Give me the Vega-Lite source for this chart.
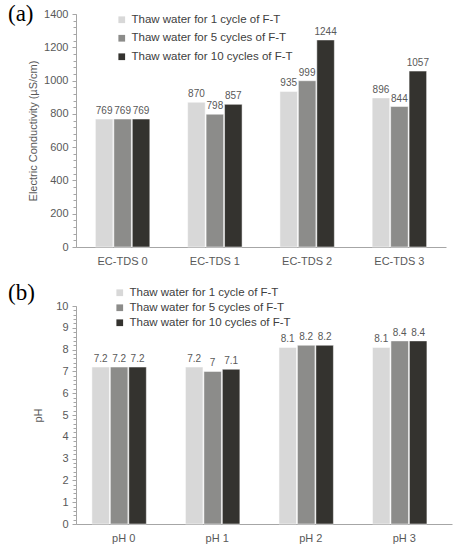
{
  "$schema": "https://vega.github.io/schema/vega-lite/v6.json",
  "padding": {"left": 8, "top": 3, "right": 5, "bottom": 5},
  "config": {
    "view": {"stroke": null},
    "font": "Liberation Sans",
    "axis": {
      "domainColor": "#a6a6a6",
      "tickColor": "#a6a6a6",
      "labelColor": "#595959",
      "titleColor": "#595959",
      "labelFont": "Liberation Sans",
      "titleFont": "Liberation Sans",
      "labelFontSize": 11,
      "titleFontSize": 11,
      "titleFontWeight": "normal",
      "grid": false
    },
    "legend": {
      "labelFont": "Liberation Sans",
      "labelFontSize": 11.5,
      "labelColor": "#404040",
      "labelLimit": 300,
      "symbolType": "square",
      "symbolSize": 45,
      "symbolStrokeWidth": 0,
      "title": null
    },
    "title": {"font": "Liberation Serif", "fontSize": 23, "fontWeight": "normal", "color": "#000000", "anchor": "start", "frame": "group"}
  },
  "datasets": {
    "ec": [
      {"group": "EC-TDS 0", "series": "Thaw water for 1 cycle of F-T", "value": 769},
      {"group": "EC-TDS 0", "series": "Thaw water for 5 cycles of F-T", "value": 769},
      {"group": "EC-TDS 0", "series": "Thaw water for 10 cycles of F-T", "value": 769},
      {"group": "EC-TDS 1", "series": "Thaw water for 1 cycle of F-T", "value": 870},
      {"group": "EC-TDS 1", "series": "Thaw water for 5 cycles of F-T", "value": 798},
      {"group": "EC-TDS 1", "series": "Thaw water for 10 cycles of F-T", "value": 857},
      {"group": "EC-TDS 2", "series": "Thaw water for 1 cycle of F-T", "value": 935},
      {"group": "EC-TDS 2", "series": "Thaw water for 5 cycles of F-T", "value": 999},
      {"group": "EC-TDS 2", "series": "Thaw water for 10 cycles of F-T", "value": 1244},
      {"group": "EC-TDS 3", "series": "Thaw water for 1 cycle of F-T", "value": 896},
      {"group": "EC-TDS 3", "series": "Thaw water for 5 cycles of F-T", "value": 844},
      {"group": "EC-TDS 3", "series": "Thaw water for 10 cycles of F-T", "value": 1057}
    ],
    "ph": [
      {"group": "pH 0", "series": "Thaw water for 1 cycle of F-T", "value": 7.2},
      {"group": "pH 0", "series": "Thaw water for 5 cycles of F-T", "value": 7.2},
      {"group": "pH 0", "series": "Thaw water for 10 cycles of F-T", "value": 7.2},
      {"group": "pH 1", "series": "Thaw water for 1 cycle of F-T", "value": 7.2},
      {"group": "pH 1", "series": "Thaw water for 5 cycles of F-T", "value": 7},
      {"group": "pH 1", "series": "Thaw water for 10 cycles of F-T", "value": 7.1},
      {"group": "pH 2", "series": "Thaw water for 1 cycle of F-T", "value": 8.1},
      {"group": "pH 2", "series": "Thaw water for 5 cycles of F-T", "value": 8.2},
      {"group": "pH 2", "series": "Thaw water for 10 cycles of F-T", "value": 8.2},
      {"group": "pH 3", "series": "Thaw water for 1 cycle of F-T", "value": 8.1},
      {"group": "pH 3", "series": "Thaw water for 5 cycles of F-T", "value": 8.4},
      {"group": "pH 3", "series": "Thaw water for 10 cycles of F-T", "value": 8.4}
    ]
  },
  "vconcat": [
    {
      "title": {"text": "(a)", "dx": -68, "offset": -18},
      "width": 370,
      "height": 233,
      "data": {"name": "ec"},
      "encoding": {
        "x": {"field": "group", "type": "nominal", "sort": null, "title": null,
              "scale": {"paddingInner": 0.41, "paddingOuter": 0.21},
              "axis": {"labelAngle": 0, "ticks": false, "labelPadding": 8}},
        "xOffset": {"field": "series", "type": "nominal", "sort": null, "scale": {"paddingInner": 0.05}}
      },
      "layer": [
        {
          "mark": {"type": "bar", "stroke": "#ffffff", "strokeWidth": 0.5},
          "encoding": {
            "y": {"field": "value", "type": "quantitative", "title": "Electric Conductivity (µS/cm)",
                  "scale": {"domain": [0, 1400], "nice": false},
                  "axis": {"values": [0, 200, 400, 600, 800, 1000, 1200, 1400], "format": "d", "tickSize": 4, "labelPadding": 4, "titlePadding": 5}},
            "color": {"field": "series", "type": "nominal", "sort": null,
                      "scale": {"range": ["#d8d8d8", "#8c8c8a", "#34332f"]},
                      "legend": {"orient": "none", "legendX": 40, "legendY": 0, "rowPadding": 5.5}}
          }
        },
        {
          "mark": {"type": "text", "dy": -8, "fontSize": 10, "color": "#595959"},
          "encoding": {
            "text": {"field": "value", "type": "quantitative"},
            "y": {"field": "value", "type": "quantitative",
                  "scale": {"domain": [0, 1400], "nice": false},
                  "axis": {"orient": "left", "title": null, "labels": false, "domain": false, "tickSize": 3,
                           "values": [0, 40, 80, 120, 160, 200, 240, 280, 320, 360, 400, 440, 480, 520, 560, 600, 640, 680, 720, 760, 800, 840, 880, 920, 960, 1000, 1040, 1080, 1120, 1160, 1200, 1240, 1280, 1320, 1360, 1400]}}
          }
        }
      ],
      "resolve": {"scale": {"y": "independent"}, "axis": {"y": "independent"}}
    },
    {
      "title": {"text": "(b)", "dx": -68, "offset": -18},
      "width": 376,
      "height": 218,
      "data": {"name": "ph"},
      "encoding": {
        "x": {"field": "group", "type": "nominal", "sort": null, "title": null,
              "scale": {"paddingInner": 0.32, "paddingOuter": 0.17},
              "axis": {"labelAngle": 0, "ticks": false, "labelPadding": 8}},
        "xOffset": {"field": "series", "type": "nominal", "sort": null, "scale": {"paddingInner": 0.05}}
      },
      "layer": [
        {
          "mark": {"type": "bar", "stroke": "#ffffff", "strokeWidth": 0.5},
          "encoding": {
            "y": {"field": "value", "type": "quantitative", "title": "pH",
                  "scale": {"domain": [0, 10], "nice": false},
                  "axis": {"values": [0, 1, 2, 3, 4, 5, 6, 7, 8, 9, 10], "tickSize": 4, "labelPadding": 4, "titlePadding": 12}},
            "color": {"field": "series", "type": "nominal", "sort": null,
                      "scale": {"range": ["#d8d8d8", "#8c8c8a", "#34332f"]},
                      "legend": {"orient": "none", "legendX": 38, "legendY": -19, "rowPadding": 2}}
          }
        },
        {
          "mark": {"type": "text", "dy": -8, "fontSize": 10, "color": "#595959"},
          "encoding": {
            "text": {"field": "value", "type": "quantitative"},
            "y": {"field": "value", "type": "quantitative",
                  "scale": {"domain": [0, 10], "nice": false},
                  "axis": {"orient": "left", "title": null, "labels": false, "domain": false, "tickSize": 3,
                           "values": [0, 0.2, 0.4, 0.6, 0.8, 1, 1.2, 1.4, 1.6, 1.8, 2, 2.2, 2.4, 2.6, 2.8, 3, 3.2, 3.4, 3.6, 3.8, 4, 4.2, 4.4, 4.6, 4.8, 5, 5.2, 5.4, 5.6, 5.8, 6, 6.2, 6.4, 6.6, 6.8, 7, 7.2, 7.4, 7.6, 7.8, 8, 8.2, 8.4, 8.6, 8.8, 9, 9.2, 9.4, 9.6, 9.8, 10]}}
          }
        }
      ],
      "resolve": {"scale": {"y": "independent"}, "axis": {"y": "independent"}}
    }
  ],
  "spacing": 16,
  "resolve": {"legend": {"color": "independent"}}
}
